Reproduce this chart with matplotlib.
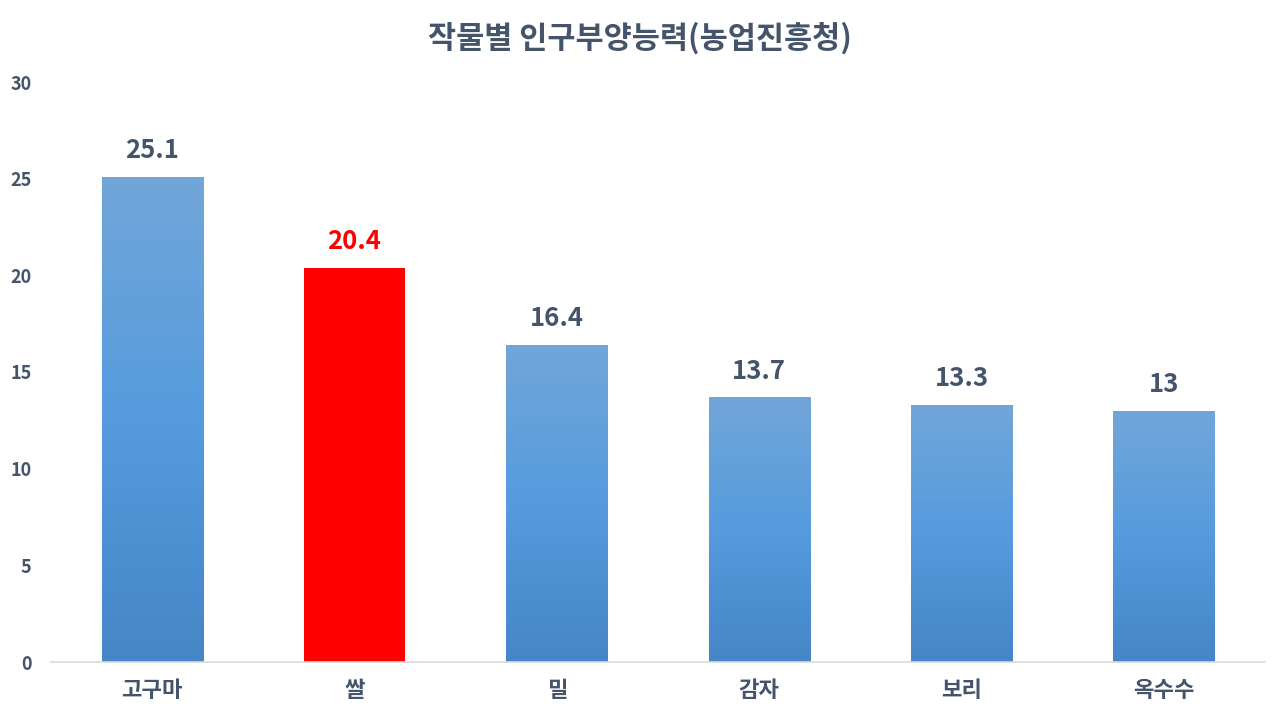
import matplotlib
matplotlib.use("Agg")
import matplotlib.pyplot as plt
import numpy as np
from matplotlib.colors import LinearSegmentedColormap

plt.rcParams['font.family'] = ['Noto Sans CJK KR', 'DejaVu Sans']

title = "작물별 인구부양능력(농업진흥청)"
categories = ["고구마", "쌀", "밀", "감자", "보리", "옥수수"]
values = [25.1, 20.4, 16.4, 13.7, 13.3, 13]
value_labels = ["25.1", "20.4", "16.4", "13.7", "13.3", "13"]
highlight = "쌀"
yticks = [0, 5, 10, 15, 20, 25, 30]

text_color = "#44546A"
red = "#FF0000"
grad = LinearSegmentedColormap.from_list("g", ["#4586C6", "#559BDE", "#72A6D9"])

fig = plt.figure(figsize=(12.8, 7.2), dpi=100)
ax = fig.add_axes([51/1280, 1 - 662/720, 1214/1280, 580/720])

x = np.arange(len(categories))
width = 0.5
bars = ax.bar(x, values, width=width, color="none", zorder=2)
grad_img = np.linspace(0, 1, 256).reshape(-1, 1)
for b, cat, v, lab in zip(bars, categories, values, value_labels):
    bx, by = b.get_x(), b.get_y()
    bw, bh = b.get_width(), b.get_height()
    if cat == highlight:
        b.set_facecolor(red)
        col = red
    else:
        im = ax.imshow(grad_img, cmap=grad, aspect="auto", origin="lower",
                       extent=[bx, bx + bw, by, by + bh], zorder=2)
        im.set_clip_path(b)
        col = text_color
    ax.annotate(lab, (bx + bw / 2, v), xytext=(0, 9), textcoords="offset points",
                ha="center", va="bottom", fontsize=18.5, fontweight="bold", color=col)

ax.set_xlim(-0.5, len(categories) - 0.5)
ax.set_ylim(0, 30)
ax.set_yticks(yticks)
ax.set_yticklabels([str(t) for t in yticks])
ax.set_xticks(x)
ax.set_xticklabels(categories)
for s in ["top", "right", "left"]:
    ax.spines[s].set_visible(False)
ax.spines["bottom"].set_color("#D9D9D9")
ax.spines["bottom"].set_linewidth(1.2)
ax.tick_params(axis="y", length=0, pad=14, labelsize=13, labelcolor=text_color)
ax.tick_params(axis="x", length=0, pad=12, labelsize=16, labelcolor=text_color)
for t in ax.get_yticklabels():
    t.set_fontweight("bold")
for t in ax.get_xticklabels():
    t.set_fontweight("bold")

fig.text(0.5, 1 - 38/720, title, ha="center", va="center", fontsize=22,
         fontweight="bold", color=text_color)

fig.savefig("out.png", dpi=100)
